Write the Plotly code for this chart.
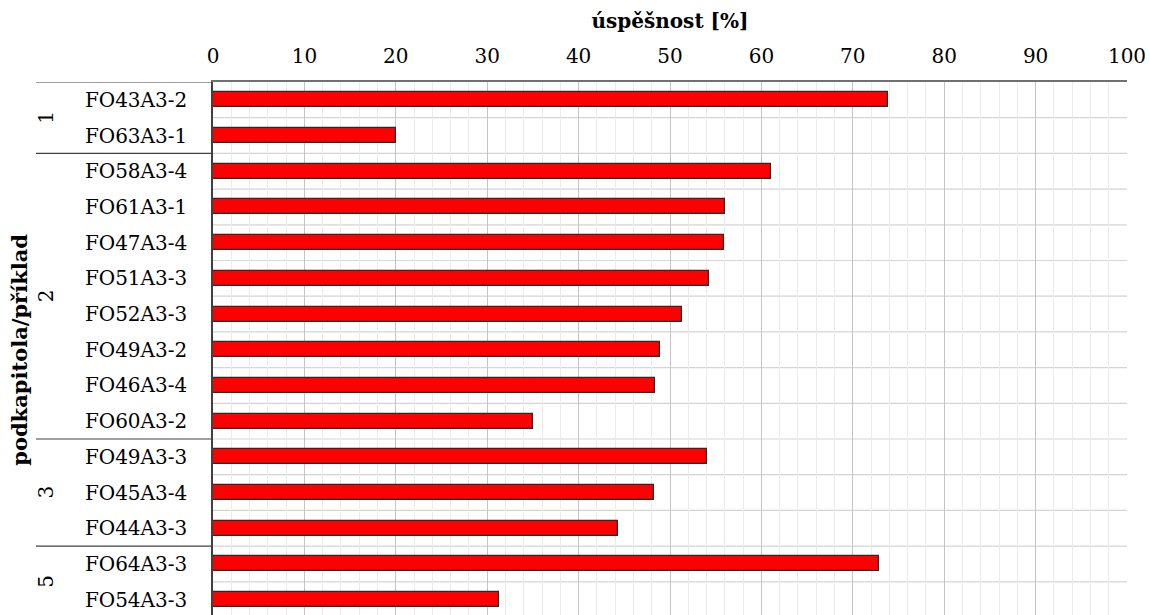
import plotly.graph_objects as go

groups = ["1", "1", "2", "2", "2", "2", "2", "2", "2", "2", "3", "3", "3", "5", "5"]
labels = ["FO43A3-2", "FO63A3-1", "FO58A3-4", "FO61A3-1", "FO47A3-4", "FO51A3-3",
          "FO52A3-3", "FO49A3-2", "FO46A3-4", "FO60A3-2", "FO49A3-3", "FO45A3-4",
          "FO44A3-3", "FO64A3-3", "FO54A3-3"]
values = [73.9, 20.0, 61.0, 56.0, 55.9, 54.3, 51.3, 48.9, 48.4, 35.0, 54.0, 48.3, 44.3, 72.9, 31.3]
x_ticks = [0, 10, 20, 30, 40, 50, 60, 70, 80, 90, 100]

FONT = "DejaVu Serif"
W, H = 1150, 615
ML, MR, MT = 213, 23, 82
ROW = 35.7
plot_h = H - MT
plot_w = W - ML - MR
n = len(labels)

def px(page_x):
    """page x pixel -> paper coordinate"""
    return (page_x - ML) / plot_w

fig = go.Figure()
fig.add_trace(go.Bar(
    x=values, y=list(range(n)), orientation="h", width=0.42,
    marker=dict(color="#ff0000", line=dict(color="#2a2a2a", width=1.2)),
    hoverinfo="x",
))

# group boundaries
bounds = [0]
for i in range(1, n):
    if groups[i] != groups[i - 1]:
        bounds.append(i)
bounds.append(n)

shapes = []
annotations = []
for b in bounds[:-1]:
    shapes.append(dict(type="line", xref="paper", yref="y",
                       x0=px(36), x1=0, y0=b - 0.5, y1=b - 0.5,
                       line=dict(color="#404040", width=1.2), layer="above"))
for a, b in zip(bounds[:-1], bounds[1:]):
    annotations.append(dict(xref="paper", yref="y",
                            x=px(46), y=(a + b - 1) / 2,
                            text=groups[a], showarrow=False, textangle=-90,
                            font=dict(family=FONT, size=20, color="#000"),
                            xanchor="center", yanchor="middle"))

annotations.append(dict(xref="paper", yref="y",
                        x=px(20), y=(n - 1) / 2,
                        text="<b>podkapitola/příklad</b>", showarrow=False, textangle=-90,
                        font=dict(family=FONT, size=21, color="#000"),
                        xanchor="center", yanchor="middle"))

fig.update_layout(
    width=W, height=H,
    margin=dict(l=ML, r=MR, t=MT, b=0, pad=0, autoexpand=False),
    plot_bgcolor="white", paper_bgcolor="white",
    showlegend=False,
    bargap=0,
    shapes=shapes,
    annotations=annotations,
    xaxis=dict(
        side="top", range=[0, 100], tickvals=x_ticks, ticktext=[str(t) for t in x_ticks],
        showgrid=True, gridcolor="#c4c4c4", gridwidth=1,
        minor=dict(dtick=2, showgrid=True, gridcolor="#ebebeb", gridwidth=1),
        showline=True, linecolor="#707070", linewidth=1.5,
        ticks="", ticklabelstandoff=9, zeroline=False, automargin=False,
        tickfont=dict(family=FONT, size=20, color="#000"),
        title=dict(text="<b>úspěšnost [%]</b>", font=dict(family=FONT, size=20, color="#000"),
                   standoff=10),
    ),
    yaxis=dict(
        range=[-0.5 + plot_h / ROW, -0.5],
        tickvals=list(range(n)), ticktext=labels,
        showgrid=False, zeroline=False, automargin=False,
        showline=True, linecolor="#404040", linewidth=1.5,
        ticks="", ticklabelstandoff=20,
        tickfont=dict(family=FONT, size=20, color="#000"),
    ),
)

# horizontal row gridlines at category boundaries
for i in range(1, n + 1):
    fig.add_shape(type="line", xref="x", yref="y", x0=0, x1=100, y0=i - 0.5, y1=i - 0.5,
                  line=dict(color="#d4d4d4", width=1.2), layer="below")

fig.write_html(
    "out.html",
    config={"displayModeBar": False},
    post_script="document.body.style.margin='0';"
                "document.documentElement.style.overflow='hidden';"
                "document.body.style.overflow='hidden';",
)
